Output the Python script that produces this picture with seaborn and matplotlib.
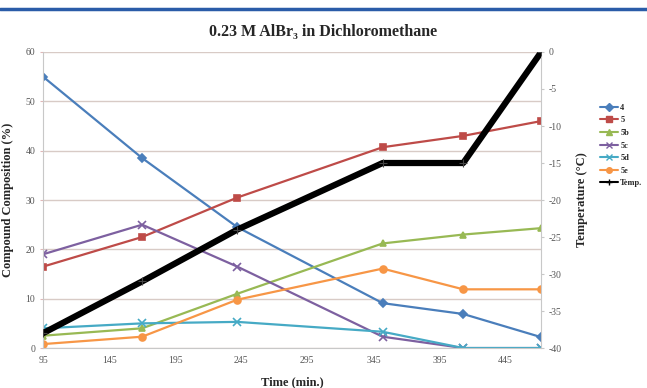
#import libraries
import pandas as pd
import matplotlib
matplotlib.use("Agg")
import matplotlib.pyplot as plt
from matplotlib.lines import Line2D
import seaborn as sns

#data
time_min = [95, 170, 242, 352, 413, 472]
comp_4 = [55.0, 38.5, 24.5, 9.1, 6.9, 2.2]
comp_5 = [16.5, 22.5, 30.5, 40.7, 43.0, 46.0]
comp_5b = [2.5, 4.0, 11.0, 21.2, 23.0, 24.3]
comp_5c = [19.0, 25.0, 16.5, 2.3, 0.0, 0.0]
comp_5d = [4.0, 5.0, 5.3, 3.3, 0.0, 0.0]
comp_5e = [0.8, 2.3, 9.8, 16.1, 11.9, 11.9]
temp_c = [-38, -31, -24, -15, -15, 0]

series_names = ["4", "5", "5b", "5c", "5d", "5e"]
series_vals = [comp_4, comp_5, comp_5b, comp_5c, comp_5d, comp_5e]
colors = ["#4A7EBB", "#BE4B48", "#98B954", "#7D60A0", "#46AAC5", "#F79646"]
markers = ["D", "s", "^", "x", "x", "o"]
msizes = [4, 5, 5, 6, 6, 5]

#long form table
df = pd.DataFrame({
    "Time": time_min * len(series_names),
    "Value": sum(series_vals, []),
    "Compound": [n for n in series_names for _ in time_min],
})
df_temp = pd.DataFrame({"Time": time_min, "Temp": temp_c})

sns.set_style("white")
plt.rcParams["font.family"] = ["Liberation Serif", "DejaVu Serif"]
plt.rcParams["axes.unicode_minus"] = False

fig = plt.figure(figsize=(6.47, 3.88), dpi=100)
ax = fig.add_axes([0.0665, 0.103, 0.77, 0.763])

# Plot compounds
for name, col, mk, ms in zip(series_names, colors, markers, msizes):
    sub = df[df["Compound"] == name]
    sns.lineplot(data=sub, x="Time", y="Value", color=col, marker=mk,
                 markersize=ms, markeredgecolor=col, markeredgewidth=1.2,
                 linewidth=1.6, ax=ax, label=name, legend=False)

ax.set_xlim(95, 472)
ax.set_ylim(0, 60)
ax.set_xticks([95, 145, 195, 245, 295, 345, 395, 445])
ax.set_yticks(range(0, 61, 10))
ax.grid(axis="y", color="#D8CBC6", linewidth=1)
ax.grid(axis="x", visible=False)
for s in ["left", "right", "bottom", "top"]:
    ax.spines[s].set_color("#C8C8C8")
    ax.spines[s].set_linewidth(0.8)
ax.spines["top"].set_visible(False)
ax.tick_params(axis="both", labelsize=7, colors="#555555", length=2,
               color="#E0B8B8")
ax.set_xlabel("Time (min.)", fontsize=9, fontweight="bold", labelpad=8)
ax.set_ylabel("Compound Composition (%)", fontsize=9, fontweight="bold",
              labelpad=8)

# Temperature on right axis
ax2 = ax.twinx()
sns.lineplot(data=df_temp, x="Time", y="Temp", color="black", marker="+",
             markersize=6, markeredgewidth=0.8, markeredgecolor="#444444",
             linewidth=4.5, ax=ax2, legend=False)
ax2.set_ylim(-40, 0)
ax2.set_yticks(range(-40, 1, 5))
ax2.tick_params(axis="y", labelsize=7, colors="#555555", length=2,
                color="#C8C8C8")
for s in ["left", "right", "bottom", "top"]:
    ax2.spines[s].set_visible(False)
ax2.set_xlabel("")
ax2.set_ylabel("Temperature (\u00b0C)", fontsize=9, fontweight="bold",
               labelpad=10)

# Legend
handles = [Line2D([0], [0], color=c, marker=m, markersize=4,
                  markeredgecolor=c, linewidth=1.5)
           for c, m in zip(colors, markers)]
handles.append(Line2D([0], [0], color="black", marker="+", markersize=5,
                      linewidth=1.5))
labels = series_names + ["Temp."]
fig.legend(handles, labels, loc="center left", bbox_to_anchor=(0.915, 0.625),
           frameon=False, handlelength=2.2, handletextpad=0.3,
           labelspacing=0.55, prop={"weight": "bold", "size": 6})

# Title and top rule
fig.text(0.5, 0.918, "0.23 M AlBr\u2083 in Dichloromethane",
         ha="center", va="center", fontsize=11.5, fontweight="bold")
fig.add_artist(Line2D([0.0, 1.0], [0.978, 0.978], color="#2A5CA8",
                      linewidth=2.5, transform=fig.transFigure))

plt.savefig("out.png", dpi=100)
